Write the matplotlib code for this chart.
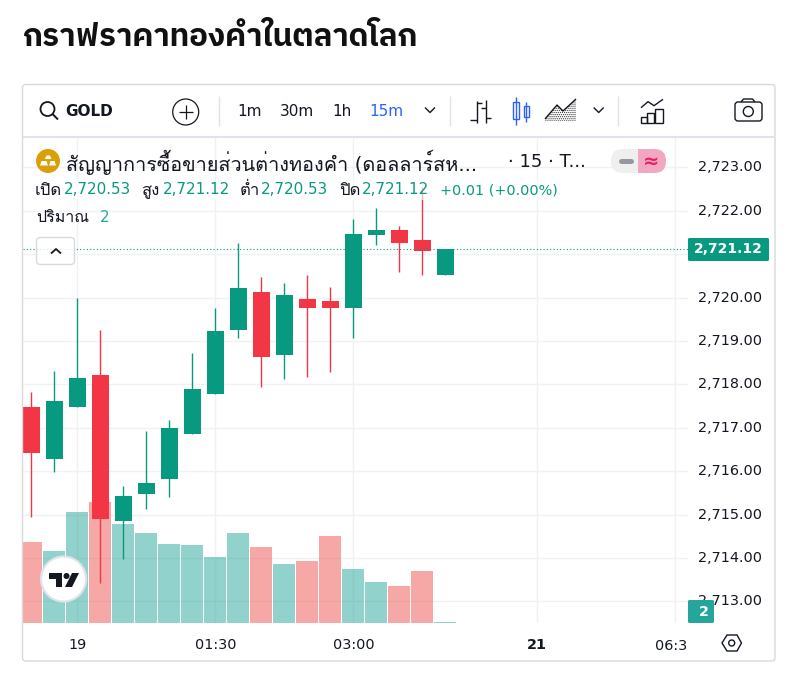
"""TradingView GOLD candlestick widget with Thai heading."""

import matplotlib
matplotlib.use("Agg")
import matplotlib.pyplot as plt
import numpy as np
from matplotlib.patches import Circle, FancyBboxPatch, Polygon, Rectangle
from matplotlib.transforms import ScaledTranslation

plt.rcParams["font.family"] = ["DejaVu Sans", "Loma", "Waree", "IBM Plex Sans Thai Looped", "Sarabun"]
plt.rcParams["hatch.linewidth"] = 0.6

UP = "#089981"
DOWN = "#F23645"
VOL_UP = "#26A69A"
VOL_DOWN = "#EF5350"
GRID = "#F0F1F4"
INK = "#131722"
BLUE = "#2962FF"

TITLE = "กราฟราคาทองคำในตลาดโลก"
OPENS = [2717.48, 2716.28, 2717.48, 2718.22, 2714.86, 2715.48, 2715.82, 2716.86, 2717.78, 2719.26,
         2720.13, 2718.68, 2719.97, 2719.92, 2719.76, 2721.44, 2721.56, 2721.33, 2720.53]
HIGHS = [2717.83, 2718.31, 2719.99, 2719.26, 2715.66, 2716.93, 2717.18, 2718.73, 2719.76, 2721.26,
         2720.48, 2720.34, 2720.52, 2720.25, 2721.81, 2722.07, 2721.65, 2722.55, 2721.12]
LOWS = [2714.95, 2715.98, 2717.48, 2713.43, 2713.98, 2715.13, 2715.41, 2716.86, 2717.78, 2719.07,
        2717.94, 2718.13, 2718.17, 2718.29, 2719.07, 2721.21, 2720.59, 2720.52, 2720.53]
CLOSES = [2716.42, 2717.62, 2718.15, 2714.90, 2715.43, 2715.73, 2717.00, 2717.90, 2719.23, 2720.22,
          2718.63, 2720.06, 2719.76, 2719.76, 2721.47, 2721.56, 2721.26, 2721.08, 2721.12]
VOLUMES = [124, 110, 170, 186, 152, 138, 121, 120, 101, 138, 117, 91, 95, 134, 83, 63, 57, 80, 2]
VOL_AXIS_MAX = 746
PRICE_TICKS = list(range(2713, 2724))
TIME_TICKS = [2, 8, 14, 22, 28]
TIME_LABELS = ["19", "01:30", "03:00", "21", ""]


def main() -> None:
    fig = plt.figure(figsize=(7.96, 6.82), dpi=100)

    # --- chart pane ---
    ax = fig.add_axes([23 / 796, (682 - 623) / 682, (688 - 23) / 796, (623 - 138) / 682])
    ymin, ymax = 2712.50, 2723.68
    ax.set_xlim(-0.361, 28.55)
    ax.set_ylim(ymin, ymax)
    ax.set_axisbelow(True)
    ax.grid(True, color=GRID, linewidth=1.0)
    for spine in ax.spines.values():
        spine.set_visible(False)

    x = np.arange(len(OPENS))
    opens, closes = np.array(OPENS), np.array(CLOSES)
    rising = closes >= opens
    colors = [UP if r else DOWN for r in rising]

    vol_scale = (ymax - ymin) / VOL_AXIS_MAX
    vol_colors = [VOL_UP if r else VOL_DOWN for r in rising]
    ax.bar(x, np.array(VOLUMES) * vol_scale, bottom=ymin, width=22 / 23, color=vol_colors, alpha=0.5,
           linewidth=0, zorder=1.5)
    ax.vlines(x, LOWS, HIGHS, color=colors, linewidth=1.0, zorder=2)
    ax.bar(x, np.abs(closes - opens), bottom=np.minimum(opens, closes), width=17 / 23, color=colors,
           linewidth=0, zorder=2.2)
    ax.axhline(CLOSES[-1], color=UP, linewidth=0.8, linestyle=(0, (1, 2)), zorder=2.4)

    ax.yaxis.tick_right()
    ax.set_yticks(PRICE_TICKS)
    # 2,721.00 sits fully behind the last-price tag
    ax.set_yticklabels(["" if p == 2721 else f"{p:,.2f}" for p in PRICE_TICKS])
    ax.tick_params(axis="y", length=0, pad=7.5, labelsize=10.4, labelcolor=INK)
    nudge = ScaledTranslation(0, 1.5 / 100, fig.dpi_scale_trans)
    for tick in ax.get_yticklabels():
        tick.set_transform(tick.get_transform() + nudge)
    ax.set_xticks(TIME_TICKS)
    ax.set_xticklabels(TIME_LABELS)
    ax.tick_params(axis="x", length=0, pad=10.5, labelsize=10.4, labelcolor=INK)
    ax.get_xticklabels()[3].set_fontweight("bold")
    ax.annotate("06:3", xy=(1, 0), xycoords="axes fraction", xytext=(-0.5, -22.5), textcoords="offset pixels",
                ha="right", va="center", fontsize=10.4, color=INK)

    # --- widget chrome, in pixel coordinates ---
    ov = fig.add_axes([0, 0, 1, 1], zorder=5)
    ov.set_xlim(0, 796)
    ov.set_ylim(682, 0)
    ov.axis("off")

    def label(px, py, s, color=INK, size=10, ha="left", weight="normal"):
        ov.text(px, py, s, color=color, fontsize=size, ha=ha, va="center", fontweight=weight)

    def stroke(xs, ys, color=INK, lw=1.0, **kw):
        ov.plot(xs, ys, color=color, linewidth=lw, solid_capstyle=kw.pop("cap", "butt"), **kw)

    def chevron(cx, cy):
        stroke([cx - 5, cx, cx + 5], [cy - 2.5, cy + 2.5, cy - 2.5], lw=1.0)

    ov.text(22, 38, TITLE, fontsize=22.5, fontweight="bold", color="#111111", ha="left", va="center",
            family=["IBM Plex Sans Thai", "Sarabun", "DejaVu Sans"])
    ov.add_patch(FancyBboxPatch((22.5, 84.5), 752.5, 576.5, boxstyle="round,pad=0,rounding_size=3",
                                facecolor="none", edgecolor="#D9D9D9", linewidth=1.0))
    stroke([23, 775], [137, 137], color="#E0E3EB", lw=1.5)

    # toolbar
    ov.add_patch(Circle((47.5, 109), 7, facecolor="none", edgecolor=INK, linewidth=1.3))
    stroke([52.5, 58], [114, 119.5], lw=1.4)
    label(65, 111, "GOLD", size=11, weight="bold")
    ov.add_patch(Circle((185.7, 112), 13, facecolor="none", edgecolor=INK, linewidth=0.9))
    stroke([178.5, 193], [112, 112], lw=0.9)
    stroke([185.7, 185.7], [105, 119], lw=0.9)
    for sep in (219, 449.5, 618):
        stroke([sep, sep], [96, 126], color="#E0E3EB", lw=1.0)
    label(250, 111, "1m", size=11, ha="center")
    label(297, 111, "30m", size=11, ha="center")
    label(342, 111, "1h", size=11, ha="center")
    label(386, 111, "15m", color=BLUE, size=11, ha="center")
    chevron(430, 110)
    chevron(598.7, 110)

    # bar style icons
    stroke([476.7, 476.7], [101, 123])
    stroke([476.7, 482], [103, 103])
    stroke([470, 476.7], [120, 120])
    stroke([485.7, 485.7], [100, 123])
    stroke([480.5, 485.7], [108, 108])
    stroke([485.7, 491], [118, 118])
    stroke([515.7, 515.7], [97, 125], color=BLUE)
    ov.add_patch(Rectangle((512.7, 102), 6, 17, facecolor="white", edgecolor=BLUE, linewidth=1.0))
    stroke([526.4, 526.4], [102, 122], color=BLUE)
    ov.add_patch(Rectangle((523.7, 106), 5.4, 11, facecolor="white", edgecolor=BLUE, linewidth=1.0))
    ov.add_patch(Polygon([(545, 119), (557, 105), (563, 111), (576, 99), (576, 121), (545, 121)],
                         facecolor="white", edgecolor="#333333", linewidth=0, hatch="........"))
    stroke([545, 557, 563, 576], [119, 105, 111, 99], lw=1.0)

    # indicators icon
    stroke([641, 648, 654, 663], [107.7, 101.7, 105.7, 99.3], lw=1.0)
    for left, top, right in ((641, 117, 647), (647, 113, 654), (655, 109, 663)):
        ov.add_patch(Rectangle((left, top), right - left, 123 - top, facecolor="none", edgecolor=INK, linewidth=1.0))

    # camera icon
    ov.add_patch(FancyBboxPatch((735, 102), 27, 19, boxstyle="round,pad=0,rounding_size=3",
                                facecolor="none", edgecolor=INK, linewidth=1.0))
    stroke([741, 743.5, 752.5, 755], [102, 99, 99, 102], lw=1.0)
    ov.add_patch(Circle((748.3, 111.5), 5, facecolor="none", edgecolor=INK, linewidth=1.0))

    # legend
    ov.add_patch(Rectangle((34, 180), 526, 20, facecolor="white", edgecolor="none", alpha=0.65))
    ov.add_patch(Circle((48, 161), 12, facecolor="#DB9F07", edgecolor="none"))
    ov.add_patch(Polygon([(45, 159), (46.5, 155.5), (50, 155.5), (51.5, 159)], facecolor="white", edgecolor="none"))
    ov.add_patch(Polygon([(40, 165.5), (41.5, 161), (46.5, 161), (48, 165.5)], facecolor="white", edgecolor="none"))
    ov.add_patch(Polygon([(49, 165.5), (50.5, 161), (54.5, 161), (56, 165.5)], facecolor="white", edgecolor="none"))
    label(66, 162, "สัญญาการซื้อขายส่วนต่างทองคำ (ดอลลาร์สห...", size=14.3)
    label(508, 162, "· 15 · T...", size=13)
    for px, s in ((35, "เปิด"), (141, "สูง"), (240, "ต่ำ"), (339, "ปิด")):
        label(px, 190, s, size=12)
    for px, s in ((64, "2,720.53"), (163, "2,721.12"), (261, "2,720.53"), (362, "2,721.12")):
        label(px, 190, s, color=UP, size=10.9)
    label(440, 190, "+0.01 (+0.00%)", color=UP, size=10.4)
    label(36, 218, "ปริมาณ", size=11.5)
    label(100, 218, "2", color=VOL_UP, size=10.8)
    ov.add_patch(FancyBboxPatch((36.5, 237.5), 38, 27, boxstyle="round,pad=0,rounding_size=4",
                                facecolor="white", edgecolor="#D1D4DC", linewidth=1.0, alpha=0.85))
    stroke([51, 56, 61], [253.5, 249, 253.5], lw=1.3)

    # status pill
    grey = FancyBboxPatch((611, 149), 55, 24, boxstyle="round,pad=0,rounding_size=12",
                          facecolor="#EFEFEF", edgecolor="none")
    pink = FancyBboxPatch((611, 149), 55, 24, boxstyle="round,pad=0,rounding_size=12",
                          facecolor="#F2A7C3", edgecolor="none")
    ov.add_patch(grey)
    ov.add_patch(pink)
    pink.set_clip_path(Rectangle((638, 149), 30, 24, transform=ov.transData))
    stroke([621, 631], [161, 161], color="#9598A1", lw=3.6, cap="round")
    label(651, 161, "≈", color="#E91E63", size=14, ha="center", weight="bold")

    # price scale tags
    ov.add_patch(FancyBboxPatch((688, 238), 81, 23, boxstyle="round,pad=0,rounding_size=1.5",
                                facecolor=UP, edgecolor="none"))
    label(763, 249, f"{CLOSES[-1]:,.2f}", color="white", size=10, ha="right", weight="bold")
    ov.add_patch(FancyBboxPatch((688, 600), 26, 23, boxstyle="round,pad=0,rounding_size=1.5",
                                facecolor=VOL_UP, edgecolor="none"))
    label(703.5, 612, str(VOLUMES[-1]), color="white", size=10.3, ha="center", weight="bold")

    # settings hexagon
    ov.add_patch(Polygon([(722, 643), (727, 635), (737, 635), (741.5, 643), (737, 651), (727, 651)],
                         facecolor="none", edgecolor=INK, linewidth=1.0))
    ov.add_patch(Circle((731.7, 643), 3, facecolor="none", edgecolor=INK, linewidth=1.0))

    # TradingView badge
    ov.add_patch(Circle((63.5, 579), 22.5, facecolor="white", edgecolor="#E0E3EB", linewidth=1.5))
    ov.add_patch(Polygon([(49, 573), (62, 573), (62, 587), (56, 587), (56, 579), (49, 579)], facecolor=INK, edgecolor="none"))
    ov.add_patch(Circle((66.5, 576), 3, facecolor=INK, edgecolor="none"))
    ov.add_patch(Polygon([(72, 573), (79, 573), (72, 587), (65, 587)], facecolor=INK, edgecolor="none"))

    fig.savefig("out.png", dpi=100)
    plt.close(fig)


if __name__ == "__main__":
    main()
